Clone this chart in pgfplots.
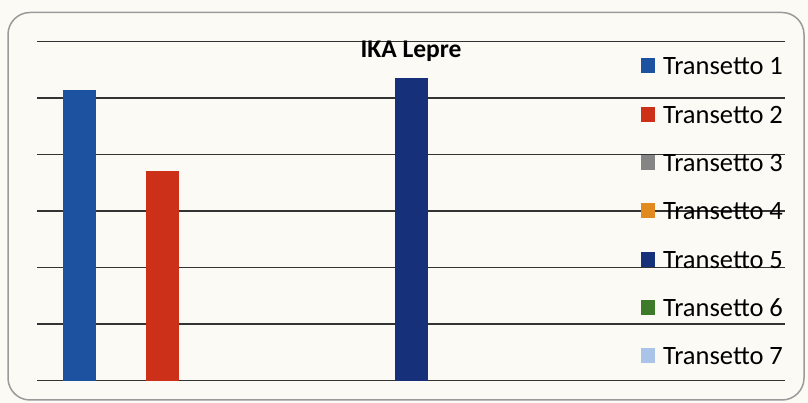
\documentclass[border=0pt]{standalone}
\usepackage{fontspec}
\setmainfont{Carlito}
\usepackage{pgfplots}
\pgfplotsset{compat=1.18}
\definecolor{bg}{HTML}{FCFAF4}
\definecolor{bordercol}{HTML}{9A9A9A}
\definecolor{gridcol}{HTML}{333333}
\definecolor{c1}{HTML}{1C52A0}
\definecolor{c2}{HTML}{CC3018}
\definecolor{c3}{HTML}{858585}
\definecolor{c4}{HTML}{E08A20}
\definecolor{c5}{HTML}{17307A}
\definecolor{c6}{HTML}{3D7A2A}
\definecolor{c7}{HTML}{A9C4E8}
\pgfplotsset{sq/.style={legend image code/.code={\fill[##1, draw=none] (0bp,-7.5bp) rectangle (14bp,7.5bp);}}}
\begin{document}
\begin{tikzpicture}
\fill[bg] (0bp,0bp) rectangle (808bp,403bp);
\draw[bordercol, line width=1.5bp, rounded corners=22bp] (8bp,3bp) rectangle (804bp,390.5bp);
\begin{axis}[at={(37bp,22.3bp)}, anchor=south west, scale only axis,
  width=748bp, height=339bp,
  xmin=-0.518, xmax=8.494, ymin=0, ymax=6,
  ytick={0,1,2,3,4,5,6}, yticklabel=\empty, xtick=\empty,
  ymajorgrids, grid style={gridcol, line width=1.5bp},
  axis line style={draw=none}, major tick length=0pt,
  title={\bfseries IKA Lepre},
  title style={at={(0.5,0.955)}, anchor=center, font=\fontsize{25.5bp}{29bp}\selectfont},
  legend style={at={(0.8075,0.955)}, anchor=north west, draw=none, fill=none,
    inner sep=0pt, outer sep=0pt, row sep=30.3bp,
    font=\fontsize{26.5bp}{30bp}\selectfont,
    nodes={inner sep=0pt, text height=18bp, text depth=0bp},
    /tikz/every odd column/.style={column sep=8bp}},
  legend cell align=left,
]
\addplot[ybar, bar width=33bp, bar shift=0pt, fill=c1, draw=none, forget plot] coordinates {(0,5.15)};
\addplot[ybar, bar width=33bp, bar shift=0pt, fill=c2, draw=none, forget plot] coordinates {(1,3.71)};
\addplot[ybar, bar width=33bp, bar shift=0pt, fill=c5, draw=none, forget plot] coordinates {(4,5.36)};
\addlegendimage{sq, fill=c1}\addlegendentry{Transetto 1}
\addlegendimage{sq, fill=c2}\addlegendentry{Transetto 2}
\addlegendimage{sq, fill=c3}\addlegendentry{Transetto 3}
\addlegendimage{sq, fill=c4}\addlegendentry{Transetto 4}
\addlegendimage{sq, fill=c5}\addlegendentry{Transetto 5}
\addlegendimage{sq, fill=c6}\addlegendentry{Transetto 6}
\addlegendimage{sq, fill=c7}\addlegendentry{Transetto 7}
\end{axis}
\end{tikzpicture}
\end{document}
